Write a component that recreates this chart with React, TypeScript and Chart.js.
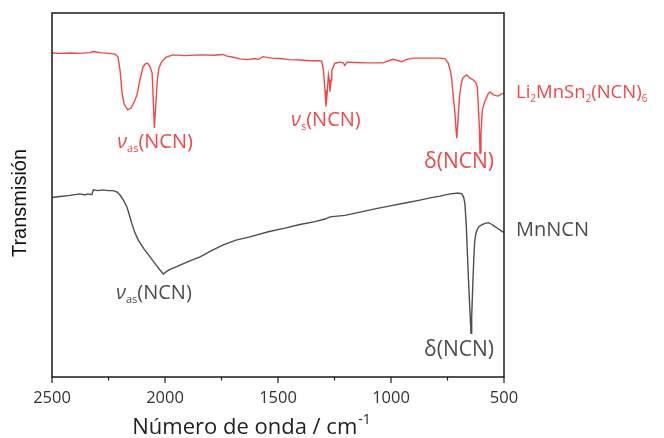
import React, { useEffect, useRef } from 'react';
import { Chart, registerables } from 'chart.js';

Chart.register(...registerables);

// ---- Data (wavenumber in cm-1, transmission in arbitrary units, offset spectra) ----
const liWavenumbers = [
  2500, 2465, 2420, 2376, 2332, 2319, 2305, 2288, 2252, 2221, 2208, 2199, 2190, 2181, 2165,
  2150, 2137, 2124, 2111, 2097, 2084, 2075, 2066, 2057, 2052, 2047, 2042, 2034, 2027, 2015,
  1996, 1965, 1912, 1845, 1779, 1743, 1730, 1704, 1668, 1637, 1602, 1588, 1566, 1549, 1527,
  1491, 1447, 1403, 1358, 1323, 1307, 1299, 1292, 1288, 1283, 1277, 1273, 1270, 1265, 1262,
  1248, 1226, 1212, 1204, 1195, 1159, 1106, 1035, 991, 969, 953, 934, 903, 850, 783, 761,
  746, 736, 731, 723, 717, 712, 709, 705, 697, 690, 683, 672, 665, 650, 636, 624, 618, 614,
  609, 606, 602, 596, 584, 569, 562, 547, 535, 525, 513, 503, 500,
];
const liTransmission = [
  89.0, 88.9, 89.0, 88.9, 89.1, 89.4, 89.3, 89.1, 88.9, 88.7, 87.9, 84.3, 78.0, 75.0, 73.4,
  73.9, 75.5, 77.5, 81.6, 85.2, 86.2, 86.1, 85.2, 83.5, 76.4, 68.4, 73.4, 81.6, 84.9, 86.6,
  87.8, 88.5, 88.3, 88.5, 88.4, 88.6, 88.2, 87.9, 87.4, 87.2, 87.5, 87.2, 88.0, 87.8, 87.6,
  87.5, 87.2, 87.1, 86.9, 86.9, 86.8, 84.3, 78.8, 74.3, 77.5, 83.0, 81.6, 78.4, 81.6, 84.3,
  86.2, 86.5, 86.3, 85.6, 86.5, 86.4, 86.3, 86.3, 87.3, 86.9, 86.6, 87.2, 87.6, 87.6, 87.6, 87.4,
  86.2, 83.8, 81.6, 76.1, 72.5, 67.9, 65.6, 69.2, 77.0, 80.2, 82.1, 82.7, 83.0, 82.1, 81.6, 80.8, 79.8, 74.7,
  68.8, 61.5, 66.5, 73.4, 75.8, 77.9, 78.3, 77.5, 77.3, 77.2, 77.7, 77.9, 78.0,
];

const mnWavenumbers = [
  2500, 2465, 2420, 2376, 2354, 2341, 2324, 2317, 2296, 2274, 2252, 2229, 2212, 2199, 2184,
  2169, 2159, 2147, 2133, 2118, 2093, 2066, 2040, 2022, 2008, 1991, 1973, 1948, 1898, 1845,
  1792, 1742, 1686, 1624, 1543, 1469, 1403, 1336, 1292, 1270, 1204, 1137, 1071, 1004, 938,
  872, 827, 783, 739, 709, 699, 687, 679, 673, 667, 662, 657, 651, 646, 643, 638, 634, 630,
  625, 618, 611, 599, 584, 569, 553, 540, 527, 518, 506, 500,
];
const mnTransmission = [
  49.3, 49.6, 49.9, 50.3, 50.0, 50.3, 50.1, 51.4, 51.2, 51.4, 51.2, 51.2, 50.8, 50.0, 48.6,
  46.8, 44.8, 42.2, 39.6, 37.6, 35.2, 33.0, 30.8, 29.4, 28.3, 29.1, 29.7, 30.3, 31.7, 33.0,
  34.8, 36.3, 37.6, 38.5, 39.9, 40.9, 41.9, 42.7, 43.4, 44.0, 44.4, 45.3, 46.2, 47.0, 47.8,
  48.6, 49.2, 49.7, 50.3, 50.5, 50.5, 50.3, 49.5, 47.7, 41.8, 34.0, 26.6, 18.4, 12.0, 16.5, 25.5, 32.0, 37.0,
  39.3, 40.6, 41.3, 41.8, 42.2, 42.4, 41.9, 41.3, 40.8, 40.4, 39.9, 39.8,
];

const xTickValues = [2500, 2250, 2000, 1750, 1500, 1250, 1000, 750, 500];
const xTickLabels = ['2500', '', '2000', '', '1500', '', '1000', '', '500'];

const seriesNames = ['Li2MnSn2(NCN)6', 'MnNCN'];
const xAxisTitle = 'Número de onda / cm';
const xAxisTitleSup = '-1';
const yAxisTitle = 'Transmisión';

// Band annotations: anchor (wavenumber, transmission) and label kind
const bandLabelWavenumbers = [2044, 1288, 699, 2049, 699];
const bandLabelValues = [62.9, 69.0, 57.4, 21.4, 5.8];
const bandLabelSeries = [0, 0, 0, 1, 1];
const bandLabelKinds = ['nu_as', 'nu_s', 'delta', 'nu_as', 'delta'];

const RED = '#f04848';
const GRAY = '#4d4d4d';
const FONT = "'Open Sans', 'Noto Sans', sans-serif";

type Part = { t: string; italic?: boolean; sub?: boolean; size?: number };

function partsFor(kind: string): Part[] {
  if (kind === 'nu_as') return [{ t: 'ν', italic: true }, { t: 'as', sub: true }, { t: '(NCN)' }];
  if (kind === 'nu_s') return [{ t: 'ν', italic: true }, { t: 's', sub: true }, { t: '(NCN)' }];
  return [{ t: 'δ(NCN)', size: 21 }];
}

function drawRich(ctx: CanvasRenderingContext2D, parts: Part[], x: number, y: number, align: 'left' | 'center', size: number, subSize: number) {
  const fontOf = (p: Part) => `${p.italic ? 'italic ' : ''}${p.sub ? subSize : p.size || size}px ${FONT}`;
  let total = 0;
  for (const p of parts) {
    ctx.font = fontOf(p);
    total += ctx.measureText(p.t).width;
  }
  let cx = align === 'center' ? x - total / 2 : x;
  ctx.textAlign = 'left';
  ctx.textBaseline = 'alphabetic';
  for (const p of parts) {
    ctx.font = fontOf(p);
    ctx.fillText(p.t, cx, p.sub ? y + 4 : y);
    cx += ctx.measureText(p.t).width;
  }
}

function last(arr: number[]) {
  return arr[arr.length - 1];
}

const overlayPlugin = {
  id: 'overlay',
  afterDraw(chart: any) {
    const { ctx, chartArea: a, scales } = chart;
    const xs = scales.x;
    const ys = scales.y;
    ctx.save();
    // frame
    ctx.strokeStyle = '#1a1a1a';
    ctx.lineWidth = 1.5;
    ctx.strokeRect(a.left, a.top, a.right - a.left, a.bottom - a.top);
    // ticks
    ctx.lineWidth = 1.2;
    xTickValues.forEach((v, i) => {
      const px = xs.getPixelForValue(v);
      const len = xTickLabels[i] ? 6 : 3.5;
      ctx.beginPath();
      ctx.moveTo(px, a.bottom);
      ctx.lineTo(px, a.bottom + len);
      ctx.stroke();
    });
    // tick labels
    ctx.fillStyle = '#333';
    ctx.font = `16.5px ${FONT}`;
    ctx.textAlign = 'center';
    ctx.textBaseline = 'alphabetic';
    xTickValues.forEach((v, i) => {
      if (!xTickLabels[i]) return;
      ctx.fillText(xTickLabels[i], xs.getPixelForValue(v), a.bottom + 26);
    });
    // x axis title with superscript
    ctx.font = `22px ${FONT}`;
    const w1 = ctx.measureText(xAxisTitle).width;
    ctx.font = `14px ${FONT}`;
    const w2 = ctx.measureText(xAxisTitleSup).width;
    const startX = 251 - (w1 + w2) / 2;
    ctx.textAlign = 'left';
    ctx.fillStyle = '#222';
    ctx.font = `22px ${FONT}`;
    ctx.fillText(xAxisTitle, startX, a.bottom + 57);
    ctx.font = `14px ${FONT}`;
    ctx.fillText(xAxisTitleSup, startX + w1 + 1, a.bottom + 47);
    // y axis title
    ctx.save();
    ctx.translate(26, (a.top + a.bottom) / 2 + 8);
    ctx.rotate(-Math.PI / 2);
    ctx.font = `20px 'Liberation Sans', Arial, sans-serif`;
    ctx.textAlign = 'center';
    ctx.fillStyle = '#111';
    ctx.fillText(yAxisTitle, 0, 0);
    ctx.restore();
    // band labels
    bandLabelKinds.forEach((k, i) => {
      ctx.fillStyle = bandLabelSeries[i] === 0 ? RED : GRAY;
      drawRich(ctx, partsFor(k), xs.getPixelForValue(bandLabelWavenumbers[i]), ys.getPixelForValue(bandLabelValues[i]), 'center', 20, 11);
    });
    // series names at the right
    ctx.fillStyle = RED;
    drawRich(
      ctx,
      [{ t: 'Li' }, { t: '2', sub: true }, { t: 'MnSn' }, { t: '2', sub: true }, { t: '(NCN)' }, { t: '6', sub: true }],
      a.right + 12,
      ys.getPixelForValue(last(liTransmission)) + 5,
      'left',
      18.5,
      10,
    );
    ctx.fillStyle = GRAY;
    drawRich(ctx, [{ t: seriesNames[1] }], a.right + 12, ys.getPixelForValue(last(mnTransmission)) + 4, 'left', 20, 12);
    ctx.restore();
  },
};

export default function App() {
  const ref = useRef<HTMLCanvasElement | null>(null);
  useEffect(() => {
    if (!ref.current) return;
    const chart = new Chart(ref.current, {
      type: 'line',
      data: {
        datasets: [
          {
            label: seriesNames[0],
            data: liWavenumbers.map((x, i) => ({ x, y: liTransmission[i] })),
            borderColor: RED,
            borderWidth: 1.4,
            pointRadius: 0,
            tension: 0,
          },
          {
            label: seriesNames[1],
            data: mnWavenumbers.map((x, i) => ({ x, y: mnTransmission[i] })),
            borderColor: GRAY,
            borderWidth: 1.4,
            pointRadius: 0,
            tension: 0,
          },
        ],
      },
      options: {
        responsive: false,
        animation: false,
        layout: { padding: { left: 52, right: 160, top: 13, bottom: 0 } },
        plugins: { legend: { display: false }, tooltip: { enabled: false } },
        scales: {
          x: {
            type: 'linear',
            reverse: true,
            min: 500,
            max: 2500,
            grid: { display: false, drawTicks: false },
            border: { display: false },
            ticks: { display: false },
            afterFit: (s: any) => { s.height = 61; },
          },
          y: { display: false, min: 0, max: 100 },
        },
      },
      plugins: [overlayPlugin],
    });
    return () => chart.destroy();
  }, []);
  return (
    <div style={{ position: 'fixed', left: 0, top: 0, width: 664, height: 438, background: '#fff' }}>
      <canvas ref={ref} width={664} height={438} />
    </div>
  );
}
